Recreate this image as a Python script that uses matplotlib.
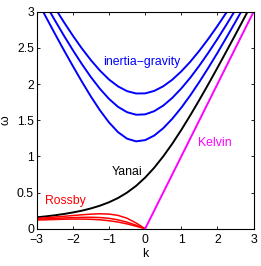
#!/usr/bin/env python3
import matplotlib
matplotlib.use("Agg")
import matplotlib.pyplot as plt

# wavenumber grid the values were read at
k = [-3.0, -2.75, -2.5, -2.25, -2.0, -1.75, -1.5, -1.25, -1.0, -0.75, -0.5, -0.25,
     0.0, 0.25, 0.5, 0.75, 1.0, 1.25, 1.5, 1.75, 2.0, 2.25, 2.5, 2.75, 3.0]

# inertia-gravity branches, n = 1, 2, 3
ig1 = [3.167, 2.932, 2.699, 2.471, 2.249, 2.033, 1.827, 1.637, 1.470, 1.335, 1.245, 1.208,
       1.225, 1.288, 1.389, 1.520, 1.673, 1.844, 2.030, 2.226, 2.431, 2.644, 2.861, 3.084, 3.310]
ig2 = [3.324, 3.101, 2.884, 2.672, 2.469, 2.276, 2.096, 1.934, 1.795, 1.685, 1.611, 1.576,
       1.581, 1.625, 1.702, 1.808, 1.939, 2.088, 2.255, 2.434, 2.623, 2.822, 3.027, 3.238, 3.455]
ig3 = [3.474, 3.262, 3.056, 2.858, 2.669, 2.492, 2.330, 2.186, 2.063, 1.968, 1.902, 1.870,
       1.871, 1.905, 1.969, 2.060, 2.175, 2.309, 2.461, 2.626, 2.803, 2.990, 3.185, 3.386, 3.594]

# Yanai (mixed Rossby-gravity)
yanai = [0.158, 0.171, 0.186, 0.204, 0.225, 0.250, 0.281, 0.319, 0.366, 0.425, 0.500, 0.593,
         0.707, 0.843, 1.000, 1.175, 1.366, 1.569, 1.781, 2.000, 2.225, 2.454, 2.686, 2.921, 3.158]

# Rossby branches, only k <= 0
k_ross = k[:13]
ross1 = [0.143, 0.152, 0.162, 0.172, 0.183, 0.193, 0.202, 0.207, 0.203, 0.185, 0.145, 0.080, 0.0]
ross2 = [0.131, 0.137, 0.143, 0.149, 0.154, 0.158, 0.159, 0.155, 0.144, 0.123, 0.091, 0.049, 0.0]
ross3 = [0.120, 0.124, 0.128, 0.132, 0.134, 0.134, 0.131, 0.124, 0.111, 0.093, 0.067, 0.035, 0.0]

# Kelvin
k_kel = [0.0, 3.0]
kelvin = [0.0, 3.0]

plt.rcParams['font.family'] = ['Liberation Sans', 'DejaVu Sans']

fig = plt.figure(figsize=(2.61, 2.66), dpi=100)
ax = fig.add_axes([0.1406, 0.140, 0.831, 0.816])

lw = 1.4
for w in (ig1, ig2, ig3):
    ax.plot(k, w, color='#0000ff', lw=lw)
ax.plot(k, yanai, color='k', lw=lw)
for w in (ross1, ross2, ross3):
    ax.plot(k_ross, w, color='#ff0000', lw=1.1)
ax.plot(k_kel, kelvin, color='#ff00ff', lw=lw)

fs = 8.8
ax.text(-0.1, 2.3, 'inertia\u2212gravity', color='#0000ff', fontsize=fs, ha='center', va='center')
ax.text(-0.5, 0.79, 'Yanai', color='k', fontsize=fs, ha='center', va='center')
ax.text(1.93, 1.18, 'Kelvin', color='#ff00ff', fontsize=fs, ha='center', va='center')
ax.text(-2.22, 0.385, 'Rossby', color='#ff0000', fontsize=fs, ha='center', va='center')

ax.set_xlim(-3, 3)
ax.set_ylim(0, 3)
ax.set_xticks([-3, -2, -1, 0, 1, 2, 3])
ax.set_yticks([0, 0.5, 1, 1.5, 2, 2.5, 3])
ax.set_yticklabels(['0', '0.5', '1', '1.5', '2', '2.5', '3'])
ax.set_xticklabels(['\u22123', '\u22122', '\u22121', '0', '1', '2', '3'])
ax.tick_params(direction='in', top=True, right=True, length=2.5, width=0.6,
               labelsize=fs)
ax.tick_params(axis='x', pad=4)
ax.tick_params(axis='y', pad=2)
for s in ax.spines.values():
    s.set_linewidth(0.8)
ax.set_xlabel('k', fontsize=fs, labelpad=1)
ax.set_ylabel('\u03c9', fontsize=fs, labelpad=4, rotation=90)

fig.savefig('out.png', dpi=100)
